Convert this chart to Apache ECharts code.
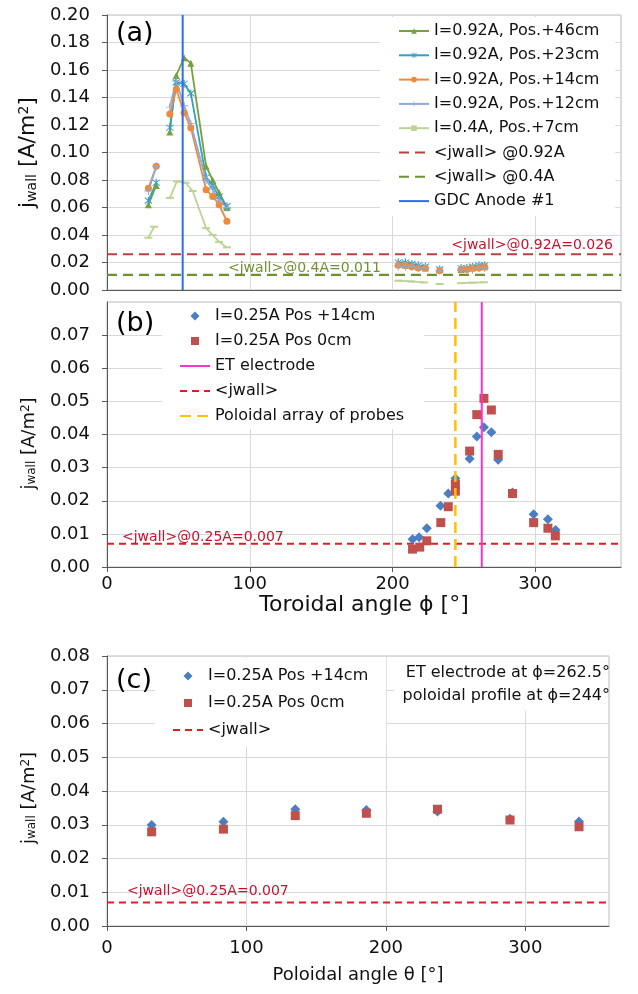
<!DOCTYPE html>
<html><head><meta charset="utf-8">
<script src="https://cdn.jsdelivr.net/npm/echarts@6/dist/echarts.min.js"></script>
<style>html,body{margin:0;padding:0;background:#fff}#c{width:638px;height:994px}</style>
</head><body><div id="c"></div>
<script>
// ---------- Panel (a): toroidal profile, several currents / positions ----------
const phiA92 = [29, 34.5, null, 44, 48.5, 54, 58.7, 69.4, 74, 78.5, 84, null, 204, 209, 213.5, 218, 223, null, 233, null, 248, 252, 256, 260.5, 264.5];
const jA46 = [0.062, 0.076, null, 0.115, 0.156, 0.169, 0.165, 0.090, 0.080, 0.071, 0.060, null, 0.019, 0.018, 0.018, 0.017, 0.016, null, 0.015, null, 0.015, 0.016, 0.016, 0.017, 0.017];
const jA23 = [0.065, 0.078, null, 0.118, 0.151, 0.150, 0.143, 0.082, 0.076, 0.068, 0.061, null, 0.020, 0.020, 0.019, 0.018, 0.017, null, 0.015, null, 0.016, 0.016, 0.017, 0.018, 0.018];
const jA14 = [0.074, 0.090, null, 0.128, 0.146, 0.129, 0.118, 0.073, 0.068, 0.062, 0.050, null, 0.018, 0.018, 0.017, 0.016, 0.016, null, 0.014, null, 0.015, 0.015, 0.016, 0.016, 0.017];
const jA12 = [0.072, 0.090, null, 0.133, 0.152, 0.134, 0.121, 0.080, 0.073, 0.065, 0.060, null, 0.017, 0.017, 0.017, 0.016, 0.016, null, 0.014, null, 0.015, 0.015, 0.015, 0.016, 0.016];
const phiA04 = [29, 33, null, 44, 49, 55, 60, 69.4, 74, 78.5, 84, null, 204, 213, 222, null, 233, null, 248, 256, 264];
const jA04 = [0.038, 0.046, null, 0.067, 0.079, 0.078, 0.072, 0.045, 0.040, 0.035, 0.031, null, 0.0068, 0.0062, 0.0055, null, 0.0044, null, 0.0050, 0.0053, 0.0056];
const jwall092 = 0.026;
const jwall04 = 0.011;
const gdcAnodePhi = 53;
const namesA = ['I=0.92A, Pos.+46cm', 'I=0.92A, Pos.+23cm', 'I=0.92A, Pos.+14cm', 'I=0.92A, Pos.+12cm', 'I=0.4A, Pos.+7cm', '<jwall> @0.92A', '<jwall> @0.4A', 'GDC Anode #1'];

// ---------- Panel (b): toroidal profile at 0.25 A ----------
const phiB14 = [214, 218.6, 224, 233.6, 239, 244, 254, 259, 264, 269.2, 274, 284, 298.8, 308.8, 314.2];
const jB14 = [0.0084, 0.0090, 0.0117, 0.0185, 0.0222, 0.0267, 0.0327, 0.0394, 0.0422, 0.0407, 0.0324, 0.0225, 0.0159, 0.0144, 0.0112];
const phiB0 = [214, 219, 224, 233.8, 239, 244, 244, 254, 259, 264, 269.2, 274, 284, 298.8, 308.8, 314];
const jB0 = [0.0054, 0.0060, 0.0079, 0.0134, 0.0182, 0.0249, 0.0229, 0.0350, 0.0460, 0.0509, 0.0474, 0.0340, 0.0222, 0.0134, 0.0117, 0.0094];
const jwall025 = 0.007;
const etElectrodePhi = 262.5;
const poloidalArrayPhi = 244;
const namesB = ['I=0.25A Pos +14cm', 'I=0.25A Pos 0cm', 'ET electrode', '<jwall>', 'Poloidal array of probes'];

// ---------- Panel (c): poloidal profile ----------
const thetaC = [32, 83.5, 135, 186, 237, 289, 338.5];
const jC14 = [0.0299, 0.0309, 0.0346, 0.0344, 0.0339, 0.0318, 0.0310];
const jC0 = [0.0279, 0.0287, 0.0327, 0.0334, 0.0346, 0.0314, 0.0294];

// axis ranges / ticks
const angleRange = [0, 360];
const angleTicks = [0, 100, 200, 300];
const yTicksB = [0, 0.01, 0.02, 0.03, 0.04, 0.05, 0.06, 0.07];

const FONT = 'DejaVu Sans';
const pairs = (xs, ys) => xs.map((x, i) => (x == null || ys[i] == null) ? ['-', '-'] : [x, ys[i]]);
const hline = (v) => [[angleRange[0], v], [angleRange[1], v]];
const vline = (x, top) => [[x, 0], [x, top]];

const starPath = 'path://M4.4,0H5.6V10H4.4Z M0.9,1.7L1.7,0.9L9.1,8.3L8.3,9.1Z M8.3,0.9L9.1,1.7L1.7,9.1L0.9,8.3Z';
const plusPath = 'path://M4.4,0H5.6V4.4H10V5.6H5.6V10H4.4V5.6H0V4.4H4.4Z';
// legend glyphs for the scatter series, drawn in a 30x9 icon box (path scaled to its bounding box)
const diamondIcon = 'path://M0,4.5L0.01,4.5Z M15,0L19.5,4.5L15,9L10.5,4.5Z M29.99,4.5L30,4.5Z';
const squareIcon = 'path://M0,4.5L0.01,4.5Z M11,0.5H19V8.5H11Z M29.99,4.5L30,4.5Z';

const C = {
  a46: '#77a13b', a23: '#35a0bf', a14: '#ef8a3a', a12: '#8fa9da', a04: '#bcd395',
  jw92: '#b5443f', jw04: '#6e9232', gdc: '#2f6bf0',
  blue: '#4a7fc1', red: '#c0504d', jwRed: '#e02020', et: '#ff33cc', polo: '#ffc000'
};

const axisLineStyle = { lineStyle: { color: '#595959', width: 1 } };
const splitLine = { show: true, lineStyle: { color: '#d9d9d9', width: 1 } };
const labelStyle = { fontFamily: FONT, fontSize: 18, color: '#111' };
const yName = (size, padRight) => ({
  fontFamily: FONT, fontSize: size, color: '#111', padding: [0, padRight, 0, 0],
  rich: {
    sub: { fontFamily: FONT, fontSize: Math.round(size * 0.65), verticalAlign: 'bottom', color: '#111' },
    sup: { fontFamily: FONT, fontSize: Math.round(size * 0.65), verticalAlign: 'top', color: '#111' }
  }
});

const gridBase = { show: true, borderColor: '#bdbdbd', borderWidth: 1, backgroundColor: 'transparent' };

function lineSeries(name, xs, ys, color, symbol, size) {
  return {
    type: 'line', name, xAxisIndex: 0, yAxisIndex: 0, data: pairs(xs, ys),
    symbol, symbolSize: size, showSymbol: true, connectNulls: false,
    lineStyle: { color, width: 1.8 }, itemStyle: { color }, z: 3
  };
}

const option = {
  animation: false,
  backgroundColor: '#fff',
  textStyle: { fontFamily: FONT },
  grid: [
    Object.assign({ left: 107, top: 15, width: 514, height: 275 }, gridBase),
    Object.assign({ left: 107, top: 302, width: 514, height: 265 }, gridBase),
    Object.assign({ left: 107, top: 656, width: 502, height: 270 }, gridBase)
  ],
  xAxis: [
    { gridIndex: 0, type: 'value', min: angleRange[0], max: angleRange[1], interval: 100,
      axisLine: axisLineStyle, axisTick: { show: false }, axisLabel: { show: false }, splitLine },
    { gridIndex: 1, type: 'value', min: angleRange[0], max: angleRange[1], interval: 100,
      axisLine: axisLineStyle,
      axisTick: { show: true, inside: false, length: 5, lineStyle: { color: '#595959' }, customValues: angleTicks },
      axisLabel: Object.assign({ margin: 8, customValues: angleTicks }, labelStyle), splitLine,
      name: 'Toroidal angle \u03d5 [\u00b0]', nameLocation: 'middle', nameGap: 27,
      nameTextStyle: { fontFamily: FONT, fontSize: 22, color: '#111' } },
    { gridIndex: 2, type: 'value', min: angleRange[0], max: angleRange[1], interval: 100,
      axisLine: axisLineStyle,
      axisTick: { show: true, inside: false, length: 5, lineStyle: { color: '#595959' }, customValues: angleTicks },
      axisLabel: Object.assign({ margin: 13, customValues: angleTicks }, labelStyle), splitLine,
      name: 'Poloidal angle \u03b8 [\u00b0]', nameLocation: 'middle', nameGap: 40,
      nameTextStyle: { fontFamily: FONT, fontSize: 18, color: '#111' } }
  ],
  yAxis: [
    { gridIndex: 0, type: 'value', min: 0, max: 0.2, interval: 0.02,
      axisLine: Object.assign({ show: true }, axisLineStyle),
      axisTick: { show: true, length: 5, lineStyle: { color: '#595959' } },
      axisLabel: Object.assign({ margin: 17, formatter: v => v.toFixed(2) }, labelStyle), splitLine,
      name: 'j{sub|wall} [A/m{sup|2}]', nameLocation: 'middle', nameRotate: 90, nameGap: 67,
      nameTextStyle: yName(22, 0) },
    { gridIndex: 1, type: 'value', min: 0, max: 0.08, interval: 0.01,
      axisLine: Object.assign({ show: true }, axisLineStyle),
      axisTick: { show: true, length: 5, lineStyle: { color: '#595959' }, customValues: yTicksB },
      axisLabel: Object.assign({ margin: 17, formatter: v => v.toFixed(2), customValues: yTicksB }, labelStyle), splitLine,
      name: 'j{sub|wall} [A/m{sup|2}]', nameLocation: 'middle', nameRotate: 90, nameGap: 69,
      nameTextStyle: yName(18, 18) },
    { gridIndex: 2, type: 'value', min: 0, max: 0.08, interval: 0.01,
      axisLine: Object.assign({ show: true }, axisLineStyle),
      axisTick: { show: true, length: 5, lineStyle: { color: '#595959' } },
      axisLabel: Object.assign({ margin: 17, formatter: v => v.toFixed(2) }, labelStyle), splitLine,
      name: 'j{sub|wall} [A/m{sup|2}]', nameLocation: 'middle', nameRotate: 90, nameGap: 69,
      nameTextStyle: yName(18, 14) }
  ],
  legend: [
    { left: 380, top: 17, orient: 'vertical', padding: [5, 16, 6, 18], itemWidth: 30, itemHeight: 7, itemGap: 6.3,
      backgroundColor: '#fff', textStyle: { fontFamily: FONT, fontSize: 16, color: '#111', lineHeight: 18 },
      data: namesA.map((n, i) => i >= 5 ? { name: n, itemStyle: { opacity: 0 } } : { name: n }) },
    { left: 162, top: 303, orient: 'vertical', padding: [4, 20, 4, 17], itemWidth: 30, itemHeight: 9, itemGap: 7,
      backgroundColor: '#fff', textStyle: { fontFamily: FONT, fontSize: 16, color: '#111', lineHeight: 18 },
      data: [{ name: namesB[0], icon: diamondIcon }, { name: namesB[1], icon: squareIcon }]
        .concat(namesB.slice(2).map(n => ({ name: n, itemStyle: { opacity: 0 } }))) },
    { left: 155, top: 658, orient: 'vertical', padding: [9, 18, 8, 17], itemWidth: 30, itemHeight: 9, itemGap: 9,
      backgroundColor: '#fff', textStyle: { fontFamily: FONT, fontSize: 16, color: '#111', lineHeight: 18 },
      data: [{ name: namesB[0], icon: diamondIcon }, { name: namesB[1], icon: squareIcon }, { name: namesB[3], itemStyle: { opacity: 0 } }] }
  ],
  series: [
    // panel (a)
    lineSeries(namesA[0], phiA92, jA46, C.a46, 'triangle', 7),
    lineSeries(namesA[1], phiA92, jA23, C.a23, starPath, 8),
    lineSeries(namesA[2], phiA92, jA14, C.a14, 'circle', 7),
    lineSeries(namesA[3], phiA92, jA12, C.a12, plusPath, 8),
    lineSeries(namesA[4], phiA04, jA04, C.a04, 'rect', [8, 2]),
    { type: 'line', name: namesA[5], xAxisIndex: 0, yAxisIndex: 0, data: hline(jwall092), symbol: 'none',
      lineStyle: { color: C.jw92, width: 2.2, type: [10, 6] }, itemStyle: { color: C.jw92 }, z: 2 },
    { type: 'line', name: namesA[6], xAxisIndex: 0, yAxisIndex: 0, data: hline(jwall04), symbol: 'none',
      lineStyle: { color: C.jw04, width: 2.2, type: [10, 6] }, itemStyle: { color: C.jw04 }, z: 2 },
    { type: 'line', name: namesA[7], xAxisIndex: 0, yAxisIndex: 0, data: vline(gdcAnodePhi, 0.2), symbol: 'none',
      lineStyle: { color: C.gdc, width: 2 }, itemStyle: { color: C.gdc }, z: 4 },
    // panel (b)
    { type: 'scatter', name: namesB[0], xAxisIndex: 1, yAxisIndex: 1, data: pairs(phiB14, jB14),
      symbol: 'diamond', symbolSize: 10, itemStyle: { color: C.blue, opacity: 1 }, z: 3 },
    { type: 'scatter', name: namesB[1], xAxisIndex: 1, yAxisIndex: 1, data: pairs(phiB0, jB0),
      symbol: 'rect', symbolSize: 9, itemStyle: { color: C.red, opacity: 1 }, z: 3 },
    { type: 'line', name: namesB[2], xAxisIndex: 1, yAxisIndex: 1, data: vline(etElectrodePhi, 0.08), symbol: 'none',
      lineStyle: { color: C.et, width: 2 }, itemStyle: { color: C.et }, z: 4 },
    { type: 'line', name: namesB[3], xAxisIndex: 1, yAxisIndex: 1, data: hline(jwall025), symbol: 'none',
      lineStyle: { color: C.jwRed, width: 2, type: [7, 5] }, itemStyle: { color: C.jwRed }, z: 2 },
    { type: 'line', name: namesB[4], xAxisIndex: 1, yAxisIndex: 1, data: vline(poloidalArrayPhi, 0.08), symbol: 'none',
      lineStyle: { color: C.polo, width: 2.5, type: [11, 6] }, itemStyle: { color: C.polo }, z: 4 },
    // panel (c)
    { type: 'scatter', name: namesB[0], xAxisIndex: 2, yAxisIndex: 2, data: pairs(thetaC, jC14),
      symbol: 'diamond', symbolSize: 10, itemStyle: { color: C.blue, opacity: 1 }, z: 3 },
    { type: 'scatter', name: namesB[1], xAxisIndex: 2, yAxisIndex: 2, data: pairs(thetaC, jC0),
      symbol: 'rect', symbolSize: 9, itemStyle: { color: C.red, opacity: 1 }, z: 3 },
    { type: 'line', name: namesB[3], xAxisIndex: 2, yAxisIndex: 2, data: hline(jwall025), symbol: 'none',
      lineStyle: { color: C.jwRed, width: 2, type: [7, 5] }, itemStyle: { color: C.jwRed }, z: 2 }
  ],
  graphic: [
    { type: 'text', x: 116, y: 34, z: 20, style: { text: '(a)', fontFamily: FONT, fontSize: 27, fill: '#000', verticalAlign: 'middle', textVerticalAlign: 'middle' } },
    { type: 'text', x: 116, y: 324, z: 20, style: { text: '(b)', fontFamily: FONT, fontSize: 27, fill: '#000', verticalAlign: 'middle', textVerticalAlign: 'middle' } },
    { type: 'text', x: 116, y: 681, z: 20, style: { text: '(c)', fontFamily: FONT, fontSize: 27, fill: '#000', verticalAlign: 'middle', textVerticalAlign: 'middle' } },
    { type: 'text', x: 613, y: 245, z: 20, style: { text: '<jwall>@0.92A=0.026', fontFamily: FONT, fontSize: 14, fill: '#c8102e', align: 'right', textAlign: 'right', verticalAlign: 'middle', textVerticalAlign: 'middle' } },
    { type: 'text', x: 228, y: 268, z: 20, style: { text: '<jwall>@0.4A=0.011', fontFamily: FONT, fontSize: 14, fill: C.jw04, verticalAlign: 'middle', textVerticalAlign: 'middle' } },
    { type: 'text', x: 122, y: 537, z: 20, style: { text: '<jwall>@0.25A=0.007', fontFamily: FONT, fontSize: 14, fill: '#c8102e', verticalAlign: 'middle', textVerticalAlign: 'middle' } },
    { type: 'text', x: 127, y: 891, z: 20, style: { text: '<jwall>@0.25A=0.007', fontFamily: FONT, fontSize: 14, fill: '#c8102e', verticalAlign: 'middle', textVerticalAlign: 'middle' } },
    { type: 'rect', z: 15, shape: { x: 394, y: 657, width: 214, height: 54 }, style: { fill: '#fff' } },
    { type: 'text', x: 610, y: 673, z: 20, style: { text: 'ET electrode at \u03d5=262.5\u00b0', fontFamily: FONT, fontSize: 16, fill: '#111', align: 'right', textAlign: 'right', verticalAlign: 'middle', textVerticalAlign: 'middle' } },
    { type: 'text', x: 610, y: 696, z: 20, style: { text: 'poloidal profile at \u03d5=244\u00b0', fontFamily: FONT, fontSize: 16, fill: '#111', align: 'right', textAlign: 'right', verticalAlign: 'middle', textVerticalAlign: 'middle' } }
  ]
};

const chart = echarts.init(document.getElementById('c'), null, { renderer: 'canvas' });
chart.setOption(option);
</script>
</body></html>
